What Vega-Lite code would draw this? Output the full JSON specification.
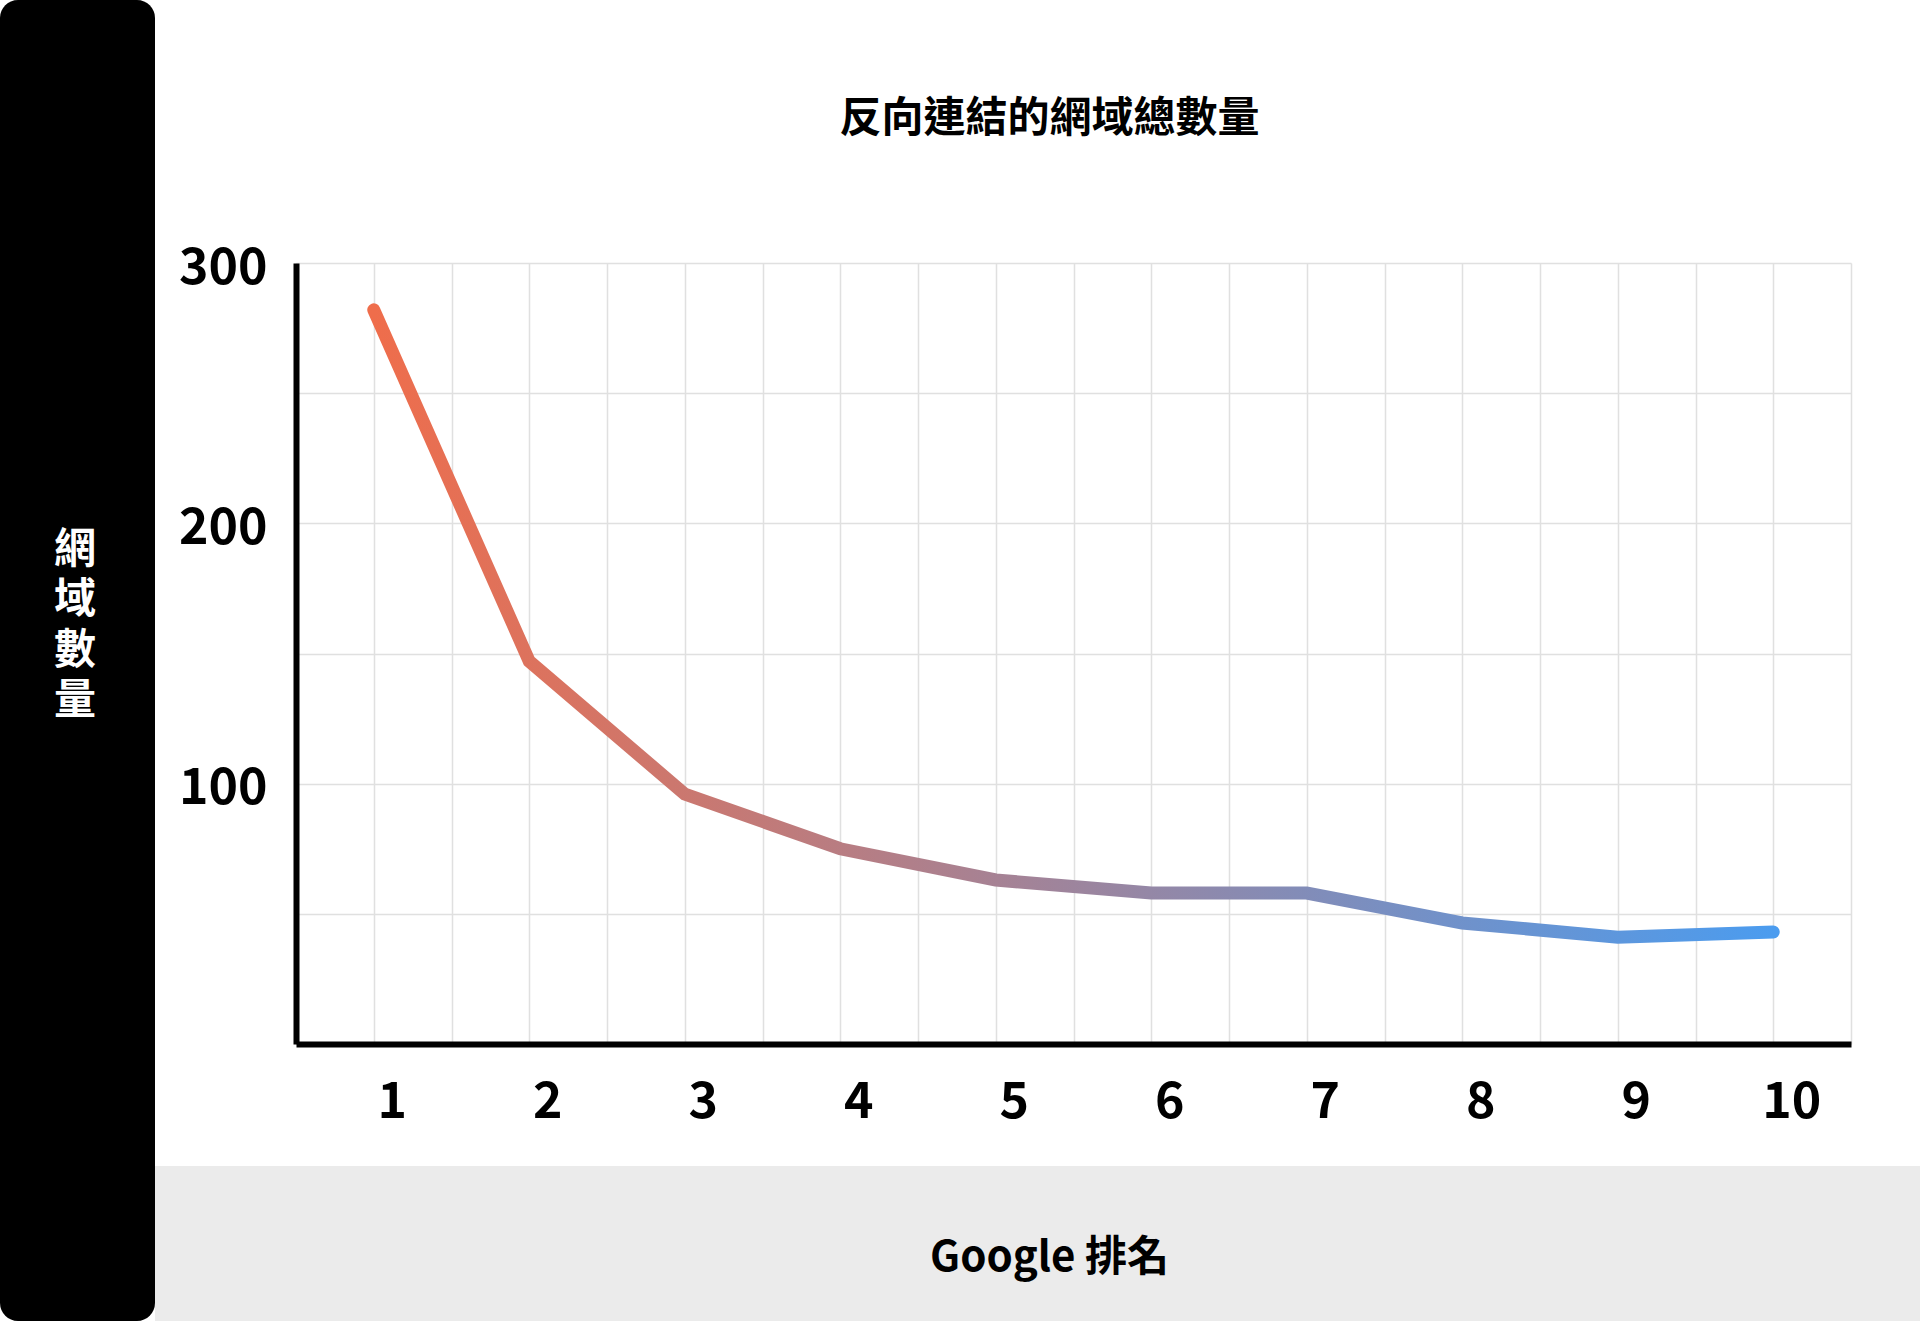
{
  "$schema": "https://vega.github.io/schema/vega-lite/v6.json",
  "background": "white",
  "padding": 0,
  "autosize": {"type": "pad"},
  "config": {
    "view": {"stroke": null},
    "font": "Noto Sans CJK TC"
  },
  "concat": [
    {
      "width": 155,
      "height": 1321,
      "view": {"fill": "#000000", "stroke": null, "cornerRadius": 18},
      "data": {"values": [{"label": "網域數量"}]},
      "mark": {
        "type": "text",
        "text": ["網", "域", "數", "量"],
        "font": "Noto Sans CJK TC",
        "fontSize": 42,
        "fontWeight": "bold",
        "color": "#ffffff",
        "lineHeight": 50.5,
        "align": "center",
        "baseline": "middle",
        "dx": -2.5,
        "dy": -111
      }
    },
    {
      "concat": [
        {
          "width": 1,
          "height": 20,
          "data": {"values": []},
          "mark": {"type": "text", "text": ""}
        },
        {
          "width": 1,
          "height": 59,
          "data": {"values": []},
          "mark": {"type": "text", "text": ""}
        },
        {
          "width": 1,
          "height": 20,
          "data": {"values": []},
          "mark": {"type": "text", "text": ""}
        },
        {
          "width": 1555,
          "height": 781,
          "title": {
            "text": "反向連結的網域總數量",
            "font": "Noto Sans CJK TC",
            "fontSize": 42,
            "fontWeight": "bold",
            "color": "#000000",
            "frame": "group",
            "anchor": "middle",
            "baseline": "bottom",
            "offset": 60,
            "dx": -24
          },
          "data": {
            "values": [
              {"rank": 1, "domains": 282},
              {"rank": 2, "domains": 147},
              {"rank": 3, "domains": 96},
              {"rank": 4, "domains": 75},
              {"rank": 5, "domains": 63},
              {"rank": 6, "domains": 58},
              {"rank": 7, "domains": 58},
              {"rank": 8, "domains": 46.5},
              {"rank": 9, "domains": 41},
              {"rank": 10, "domains": 43}
            ]
          },
          "mark": {
            "type": "line",
            "strokeWidth": 13,
            "strokeCap": "round",
            "strokeJoin": "miter",
            "stroke": {
              "gradient": "linear",
              "x1": 0, "y1": 0, "x2": 1, "y2": 0,
              "stops": [
                {"offset": 0, "color": "#ef6d4b"},
                {"offset": 1, "color": "#4b9cef"}
              ]
            }
          },
          "encoding": {
            "x": {
              "field": "rank",
              "type": "quantitative",
              "scale": {"domain": [0.5, 10.5], "nice": false, "zero": false},
              "axis": {
                "title": null,
                "values": [0.5, 1, 1.5, 2, 2.5, 3, 3.5, 4, 4.5, 5, 5.5, 6, 6.5, 7, 7.5, 8, 8.5, 9, 9.5, 10, 10.5],
                "labelExpr": "datum.value % 1 === 0 ? format(datum.value, 'd') : ''",
                "ticks": false,
                "tickSize": 0,
                "grid": true,
                "gridColor": "#e0e0e0",
                "gridWidth": 1.5,
                "domainColor": "#000000",
                "domainWidth": 6,
                "labelFont": "Noto Sans CJK TC",
                "labelFontSize": 50,
                "labelFontWeight": "bold",
                "labelColor": "#000000",
                "labelPadding": 33,
                "labelOffset": 18,
                "labelFlush": false,
                "labelOverlap": false
              }
            },
            "y": {
              "field": "domains",
              "type": "quantitative",
              "scale": {"domain": [0, 300], "nice": false},
              "axis": {
                "title": null,
                "values": [0, 50, 100, 150, 200, 250, 300],
                "labelExpr": "datum.value % 100 === 0 && datum.value > 0 ? format(datum.value, 'd') : ''",
                "ticks": false,
                "tickSize": 0,
                "grid": true,
                "gridColor": "#e0e0e0",
                "gridWidth": 1.5,
                "domainColor": "#000000",
                "domainWidth": 6,
                "labelFont": "Noto Sans CJK TC",
                "labelFontSize": 50,
                "labelFontWeight": "bold",
                "labelColor": "#000000",
                "labelPadding": 29,
                "labelOffset": 5,
                "labelFlush": false,
                "labelOverlap": false,
                "minExtent": 141,
                "maxExtent": 141
              }
            }
          }
        },
        {
          "width": 1,
          "height": 20,
          "data": {"values": []},
          "mark": {"type": "text", "text": ""}
        },
        {
          "width": 1765,
          "height": 155,
          "view": {"fill": "#ebebeb", "stroke": null, "cornerRadius": 0},
          "data": {"values": [{"label": "Google 排名"}]},
          "mark": {
            "type": "text",
            "text": "Google 排名",
            "font": "Noto Sans CJK TC",
            "fontSize": 42,
            "fontWeight": "bold",
            "color": "#000000",
            "align": "center",
            "baseline": "middle",
            "dx": 12,
            "dy": 14
          }
        }
      ],
      "columns": 2,
      "align": "none",
      "spacing": {"row": 39, "column": -1}
    }
  ],
  "columns": 2,
  "align": "none",
  "spacing": 0
}
